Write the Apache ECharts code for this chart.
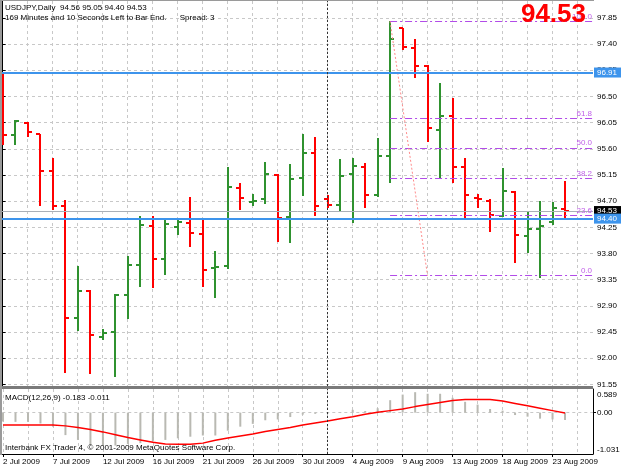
<!DOCTYPE html>
<html>
<head>
<meta charset="utf-8">
<script src="https://cdn.jsdelivr.net/npm/echarts@6/dist/echarts.min.js"></script>
<style>
html,body{margin:0;padding:0;background:#fff;}
#main{width:625px;height:469px;}
</style>
</head>
<body>
<div id="main"></div>
<script>
// daily bars, USDJPY (Sunday bars included, like the MT4 feed)
var dates = ['2 Jul 2009','3 Jul 2009','5 Jul 2009','6 Jul 2009','7 Jul 2009','8 Jul 2009','9 Jul 2009','10 Jul 2009',
  '12 Jul 2009','13 Jul 2009','14 Jul 2009','15 Jul 2009','16 Jul 2009','17 Jul 2009','19 Jul 2009','20 Jul 2009',
  '21 Jul 2009','22 Jul 2009','23 Jul 2009','24 Jul 2009','26 Jul 2009','27 Jul 2009','28 Jul 2009','29 Jul 2009',
  '30 Jul 2009','31 Jul 2009','2 Aug 2009','3 Aug 2009','4 Aug 2009','5 Aug 2009','6 Aug 2009','7 Aug 2009',
  '9 Aug 2009','10 Aug 2009','11 Aug 2009','12 Aug 2009','13 Aug 2009','14 Aug 2009','16 Aug 2009','17 Aug 2009',
  '18 Aug 2009','19 Aug 2009','20 Aug 2009','21 Aug 2009','23 Aug 2009','24 Aug 2009'];
var opens  = [96.60,95.83,96.04,95.86,95.21,94.61,92.70,93.16,92.37,92.46,93.08,93.61,94.27,93.70,94.25,94.33,
  94.13,93.55,93.58,94.93,94.69,94.73,95.15,94.42,95.10,95.53,94.74,94.64,95.16,95.28,94.80,95.47,
  97.67,97.34,97.02,95.93,96.17,95.28,94.75,94.71,94.45,94.85,94.10,94.23,94.35,94.56];
var highs  = [96.89,96.10,96.06,95.86,95.45,94.72,93.58,93.17,92.50,93.11,93.75,94.44,94.44,94.37,94.37,94.77,
  94.37,93.85,95.28,95.01,94.82,95.37,95.16,95.34,95.86,95.81,94.81,95.42,95.45,95.36,95.78,97.79,
  97.68,97.49,97.04,96.73,96.47,95.45,94.83,94.74,95.27,94.87,94.52,94.70,94.68,95.05];
var lows   = [95.69,95.69,95.82,94.64,94.57,91.76,92.49,91.74,92.34,91.70,92.69,93.25,93.23,93.45,94.13,93.93,
  93.25,93.05,93.56,94.57,94.63,94.67,94.01,94.00,94.80,94.47,94.60,94.55,94.34,94.60,94.79,95.03,
  97.32,96.83,95.73,95.10,95.03,94.41,94.60,94.18,94.44,93.65,93.82,93.39,94.31,94.40];
var closes = [95.83,96.08,95.89,95.21,94.61,92.70,93.15,92.40,92.44,93.08,93.61,94.29,93.71,94.31,94.34,94.15,
  93.52,93.57,94.94,94.76,94.70,95.17,94.41,95.08,95.53,94.61,94.64,95.14,95.30,94.80,95.47,97.49,
  97.35,97.02,95.95,96.17,95.28,94.80,94.74,94.47,94.87,94.11,94.23,94.27,94.58,94.53];

// MACD(12,26,9): main (histogram) and signal
var macdMain = [-0.22,-0.23,-0.23,-0.27,-0.35,-0.56,-0.68,-0.80,-0.82,-0.82,-0.78,-0.76,-0.72,-0.68,-0.64,-0.60,
  -0.57,-0.57,-0.45,-0.35,-0.28,-0.19,-0.17,-0.11,-0.05,-0.03,-0.02,-0.01,0.07,0.04,0.11,0.31,
  0.45,0.51,0.47,0.47,0.37,0.27,0.20,0.09,0.05,-0.06,-0.10,-0.15,-0.17,-0.183];
var macdSignal = [-0.31,-0.31,-0.31,-0.31,-0.31,-0.33,-0.37,-0.42,-0.48,-0.55,-0.62,-0.68,-0.74,-0.78,-0.79,-0.79,
  -0.76,-0.69,-0.63,-0.58,-0.53,-0.47,-0.42,-0.37,-0.31,-0.26,-0.21,-0.15,-0.10,-0.04,0.01,0.05,
  0.09,0.15,0.20,0.25,0.30,0.33,0.33,0.33,0.29,0.23,0.17,0.11,0.05,-0.011];

var priceTicks = [91.55,92.00,92.45,92.90,93.35,93.80,94.25,94.70,95.15,95.60,96.05,96.50,96.95,97.40,97.85];
var macdTicks = [0.589,0,-1.031];

var hLines = [96.91,94.40];
var bidPrice = 94.53;
var fibLabels = ['0.0','23.6','38.2','50.0','61.8','100.0'];
var fibPrices = [93.42,94.45,95.09,95.61,96.12,97.79];
var fibFrom = 31, fibTo = 34;
var vLineBar = 26;

var FONT = '"Liberation Sans", Arial, sans-serif';
var UP = '#2f922f', DOWN = '#ff0000', BLUE = '#3d94ec', GRIDC = '#c8c8c8', FIBC = '#b24ce8';
var XMIN = -0.056, XMAX = 47.24;

var last = dates.length - 1;
var ohlc = dates.map(function(d, i){ return [i, opens[i], highs[i], lows[i], closes[i]]; });
var histData = macdMain.map(function(v, i){ return [i, v]; });
var sigData = macdSignal.map(function(v, i){ return [i, v]; });

var gridX = [];
for (var g = 0; g <= 46; g += 2) gridX.push(g);
var labelX = [];
for (var k = 0; k < dates.length; k += 4) labelX.push(k);

function renderBar(params, api) {
  var o = api.value(1), c = api.value(4);
  var ph = api.coord([api.value(0), api.value(2)]);
  var pl = api.coord([api.value(0), api.value(3)]);
  var po = api.coord([api.value(0), o]);
  var pc = api.coord([api.value(0), c]);
  var x = Math.round(ph[0]);
  var st = {stroke: c >= o ? UP : DOWN, lineWidth: 2};
  return {type: 'group', children: [
    {type: 'line', shape: {x1: x, y1: Math.round(ph[1]), x2: x, y2: Math.round(pl[1]) + 1}, style: st},
    {type: 'line', shape: {x1: x - 4, y1: Math.round(po[1]), x2: x, y2: Math.round(po[1])}, style: st},
    {type: 'line', shape: {x1: x, y1: Math.round(pc[1]), x2: x + 4, y2: Math.round(pc[1])}, style: st}
  ]};
}

var boxLabel = function(txt, bg) {
  return {show: true, position: 'end', distance: 1, formatter: txt, color: '#fff', backgroundColor: bg,
    fontFamily: FONT, fontSize: 8, padding: [1, 4, 0, 3], lineHeight: 9};
};

var mainLines = [
  {yAxis: bidPrice, lineStyle: {color: '#aab0b8', width: 1, type: 'solid'}, label: boxLabel(bidPrice.toFixed(2), '#000')}
];
hLines.forEach(function(p){
  mainLines.push({yAxis: p, lineStyle: {color: BLUE, width: 2, type: 'solid'}, label: boxLabel(p.toFixed(2), BLUE)});
});
mainLines.push({xAxis: vLineBar, lineStyle: {color: '#333', width: 1, type: [2, 2]}, label: {show: false}});

// fibonacci levels, drawn from the swing high bar to the right edge
var fibLines = fibPrices.map(function(p, i){
  return [
    {coord: [fibFrom, p], label: {formatter: fibLabels[i]}},
    {coord: [XMAX, p]}
  ];
});

var chart = echarts.init(document.getElementById('main'), null, {renderer: 'canvas'});
chart.setOption({
  animation: false,
  backgroundColor: '#fff',
  grid: [
    {left: 2, right: 32, top: 1, height: 385},
    {left: 2, right: 32, top: 389, height: 65}
  ],
  xAxis: [
    {gridIndex: 0, type: 'value', min: XMIN, max: XMAX, axisLine: {show: false},
      axisTick: {show: false, customValues: gridX}, axisLabel: {show: false},
      splitLine: {show: true, customValues: gridX, lineStyle: {color: GRIDC, type: [3, 3]}}},
    {gridIndex: 1, type: 'value', min: XMIN, max: XMAX, position: 'bottom',
      axisLine: {show: true, onZero: false, lineStyle: {color: '#000'}},
      axisTick: {show: false, customValues: gridX}, axisLabel: {show: false},
      splitLine: {show: true, customValues: gridX, lineStyle: {color: GRIDC, type: [3, 3]}}},
    {gridIndex: 1, type: 'value', min: XMIN, max: XMAX, position: 'bottom',
      axisLine: {show: false, onZero: false},
      axisTick: {show: true, customValues: labelX, length: 3, lineStyle: {color: '#000'}},
      axisLabel: {show: true, customValues: labelX, align: 'left', margin: 4, color: '#000',
        fontFamily: FONT, fontSize: 8, formatter: function(v){ return dates[Math.round(v)]; }},
      splitLine: {show: false}}
  ],
  yAxis: [
    {gridIndex: 0, type: 'value', position: 'right', min: 91.524, max: 98.139,
      axisLine: {show: true, lineStyle: {color: '#000'}},
      axisTick: {show: true, customValues: priceTicks, length: 3, lineStyle: {color: '#000'}},
      axisLabel: {customValues: priceTicks, margin: 4, color: '#000', fontFamily: FONT, fontSize: 8,
        formatter: function(v){ return v.toFixed(2); }},
      splitLine: {show: true, customValues: priceTicks, lineStyle: {color: GRIDC, type: [3, 3]}}},
    {gridIndex: 1, type: 'value', position: 'right', min: -1.031, max: 0.589,
      axisLine: {show: true, onZero: false, lineStyle: {color: '#000'}},
      axisTick: {show: true, customValues: [0], length: 3, lineStyle: {color: '#000'}},
      axisLabel: {customValues: macdTicks, margin: 4, color: '#000', fontFamily: FONT, fontSize: 8,
        formatter: function(v){
          if (v === 0) return '0.00';
          return v > 0 ? '{t|' + v.toFixed(3) + '}' : '{b|' + v.toFixed(3) + '}';
        },
        rich: {t: {padding: [12, 0, 0, 0], fontSize: 8, fontFamily: FONT}, b: {padding: [0, 0, 8, 0], fontSize: 8, fontFamily: FONT}}},
      splitLine: {show: true, customValues: [0], lineStyle: {color: GRIDC, type: [3, 3]}}}
  ],
  series: [
    {type: 'custom', name: 'USDJPY', xAxisIndex: 0, yAxisIndex: 0, clip: true,
      renderItem: renderBar, encode: {x: 0, y: [1, 2, 3, 4]}, data: ohlc, z: 3},
    {type: 'line', xAxisIndex: 0, yAxisIndex: 0, data: [], silent: true, z: 4,
      markLine: {symbol: ['none', 'none'], silent: true, animation: false,
        lineStyle: {color: FIBC, width: 1, type: [7, 3, 2, 3], opacity: 1},
        label: {show: true, position: 'insideEndTop', distance: 1, color: '#c060e8', fontFamily: FONT, fontSize: 8},
        data: fibLines}},
    {type: 'line', xAxisIndex: 0, yAxisIndex: 0, data: [], silent: true, z: 4,
      markLine: {symbol: ['none', 'none'], silent: true, animation: false,
        lineStyle: {color: '#ff8a8a', width: 1, type: [2, 2], opacity: 1}, label: {show: false},
        data: [[{coord: [fibFrom, fibPrices[5]]}, {coord: [fibTo, fibPrices[0]]}]]}},
    {type: 'line', xAxisIndex: 0, yAxisIndex: 0, data: [], silent: true, z: 5,
      markLine: {symbol: ['none', 'none'], silent: true, animation: false, data: mainLines}},
    {type: 'bar', name: 'MACD', xAxisIndex: 1, yAxisIndex: 1, data: histData, barWidth: 2,
      itemStyle: {color: '#b9b9b2'}},
    {type: 'line', name: 'Signal', xAxisIndex: 1, yAxisIndex: 1, data: sigData, symbol: 'none',
      lineStyle: {color: '#ff0000', width: 1.5},
      markLine: {symbol: ['none', 'none'], silent: true, animation: false,
        data: [{xAxis: vLineBar, lineStyle: {color: '#333', width: 1, type: [2, 2]}, label: {show: false}}]}}
  ],
  graphic: [
    {type: 'rect', z: 100, shape: {x: 0, y: 386, width: 593, height: 3}, style: {fill: '#7a7a7a'}},
    {type: 'rect', z: 100, shape: {x: 0, y: 0, width: 2, height: 455}, style: {fill: '#9a9a9a'}},
    {type: 'rect', z: 100, shape: {x: 0, y: 0, width: 594, height: 1}, style: {fill: '#9a9a9a'}},
    {type: 'text', z: 101, style: {x: 5, y: 8, text: 'USDJPY,Daily  ' + opens[last].toFixed(2) + ' ' + highs[last].toFixed(2) + ' ' +
      lows[last].toFixed(2) + ' ' + closes[last].toFixed(2), font: '8px ' + FONT, fill: '#000', textVerticalAlign: 'middle'}},
    {type: 'text', z: 101, style: {x: 5, y: 18, text: '169 Minutes and 10 Seconds Left to Bar End.      Spread: 3',
      font: '8px ' + FONT, fill: '#000', textVerticalAlign: 'middle'}},
    {type: 'text', z: 101, style: {x: 586, y: 15, text: closes[last].toFixed(2), font: 'bold 26px ' + FONT,
      fill: '#ff0000', textAlign: 'right', textVerticalAlign: 'middle'}},
    {type: 'text', z: 101, style: {x: 5, y: 398, text: 'MACD(12,26,9) ' + macdMain[last].toFixed(3) + ' ' + macdSignal[last].toFixed(3),
      font: '8px ' + FONT, fill: '#000', textVerticalAlign: 'middle'}},
    {type: 'text', z: 101, style: {x: 5, y: 448, text: 'Interbank FX Trader 4, \u00a9 2001-2009 MetaQuotes Software Corp.',
      font: '8px ' + FONT, fill: '#000', textVerticalAlign: 'middle'}}
  ]
});
</script>
</body>
</html>
